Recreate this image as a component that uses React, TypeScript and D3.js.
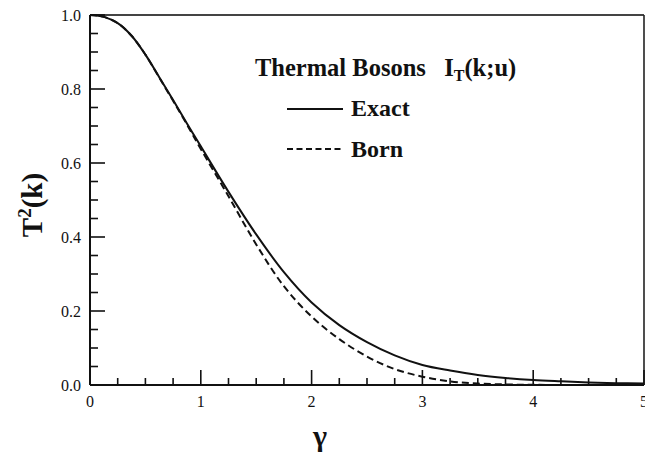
import React from "react";
import * as d3 from "d3";

const gammaExact = [0, 0.125, 0.25, 0.375, 0.5, 0.625, 0.75, 0.875, 1.0, 1.25, 1.5, 1.75, 2.0, 2.25, 2.5, 2.75, 3.0, 3.25, 3.5, 3.75, 4.0, 4.25, 4.5, 4.75, 5.0];
const exactValues = [1.0, 0.995, 0.978, 0.944, 0.893, 0.832, 0.77, 0.707, 0.645, 0.522, 0.407, 0.305, 0.223, 0.162, 0.116, 0.08, 0.054, 0.039, 0.027, 0.019, 0.0135, 0.01, 0.007, 0.005, 0.004];
const gammaBorn = [0, 0.125, 0.25, 0.375, 0.5, 0.625, 0.75, 0.875, 1.0, 1.25, 1.5, 1.75, 2.0, 2.25, 2.5, 2.75, 3.0, 3.25, 3.5, 3.75, 4.0, 4.5, 5.0];
const bornValues = [1.0, 0.995, 0.978, 0.944, 0.893, 0.831, 0.768, 0.704, 0.638, 0.51, 0.38, 0.267, 0.185, 0.124, 0.077, 0.043, 0.0225, 0.01, 0.004, 0.0015, 0.0005, 0.0001, 0];
const xTickLabels = ["0", "1", "2", "3", "4", "5"];
const yTickLabels = ["0.0", "0.2", "0.4", "0.6", "0.8", "1.0"];

const W = 645;
const H = 458;
const M = { left: 90, right: 644, top: 15, bottom: 385 };
const serif = "'Liberation Serif', 'Times New Roman', Times, serif";

export default function App() {
  const x = d3.scaleLinear().domain([0, 5]).range([M.left, M.right]);
  const y = d3.scaleLinear().domain([0, 1]).range([M.bottom, M.top]);

  const line = d3
    .line<[number, number]>()
    .x((d) => x(d[0]))
    .y((d) => y(d[1]))
    .curve(d3.curveCatmullRom.alpha(0.5));

  const exactPath = line(gammaExact.map((g, i) => [g, exactValues[i]]) as [number, number][]) || "";
  const bornPath = line(gammaBorn.map((g, i) => [g, bornValues[i]]) as [number, number][]) || "";

  const xMinor = d3.range(0, 5.0001, 0.25);
  const yMinor = d3.range(0, 1.0001, 0.05);

  return (
    <div style={{ position: "fixed", left: 0, top: 0 }}>
      <svg width={W} height={H} style={{ display: "block", background: "#fff" }}>
        <defs>
          <clipPath id="plotclip">
            <rect x={M.left} y={M.top - 2} width={M.right - M.left} height={M.bottom - M.top + 2} />
          </clipPath>
        </defs>
        {/* frame */}
        <line x1={M.left} x2={M.right} y1={M.top} y2={M.top} stroke="#444" strokeWidth={2.2} />
        <line x1={M.right} x2={M.right} y1={M.top} y2={M.bottom} stroke="#222" strokeWidth={1.6} />
        <line x1={M.left} x2={M.left} y1={M.top} y2={M.bottom} stroke="#111" strokeWidth={2} />
        <line x1={M.left} x2={M.right} y1={M.bottom} y2={M.bottom} stroke="#111" strokeWidth={2} />

        {/* x ticks */}
        {xMinor.map((v, i) => {
          const major = Math.abs(v - Math.round(v)) < 1e-6;
          if (v === 0) return null;
          return (
            <line key={"xt" + i} x1={x(v)} x2={x(v)} y1={M.bottom} y2={M.bottom - (major ? 15 : 7)} stroke="#111" strokeWidth={1.6} />
          );
        })}
        {/* y ticks */}
        {yMinor.map((v, i) => {
          const major = Math.abs(v * 5 - Math.round(v * 5)) < 1e-6;
          if (v === 0) return null;
          return (
            <line key={"yt" + i} x1={M.left} x2={M.left + (major ? 15 : 8)} y1={y(v)} y2={y(v)} stroke="#111" strokeWidth={1.6} />
          );
        })}

        {/* tick labels */}
        {xTickLabels.map((t, i) => (
          <text key={"xl" + i} x={x(+t)} y={407} textAnchor="middle" fontFamily={serif} fontSize={16} fill="#111">
            {t}
          </text>
        ))}
        {yTickLabels.map((t, i) => (
          <text key={"yl" + i} x={81} y={y(+t) + 6} textAnchor="end" fontFamily={serif} fontSize={16} fill="#111">
            {t}
          </text>
        ))}

        {/* curves */}
        <g clipPath="url(#plotclip)">
          <path d={exactPath} fill="none" stroke="#111" strokeWidth={2} />
          <path d={bornPath} fill="none" stroke="#111" strokeWidth={2} strokeDasharray="7,4" />
        </g>

        {/* legend */}
        <text x={255} y={76} fontFamily={serif} fontWeight="bold" fontSize={24.5} fill="#111">
          Thermal Bosons{"\u00A0\u00A0\u00A0"}I
          <tspan fontSize={16} dy={5}>T</tspan>
          <tspan dy={-5}>(k;u)</tspan>
        </text>
        <line x1={287} x2={343} y1={109} y2={109} stroke="#111" strokeWidth={2} />
        <text x={351} y={116} fontFamily={serif} fontWeight="bold" fontSize={24} fill="#111">
          Exact
        </text>
        <line x1={287} x2={343} y1={149} y2={149} stroke="#111" strokeWidth={2} strokeDasharray="6,3.5" />
        <text x={351} y={157} fontFamily={serif} fontWeight="bold" fontSize={24} fill="#111">
          Born
        </text>

        {/* axis titles */}
        <text x={320} y={446} textAnchor="middle" fontFamily={serif} fontWeight="bold" fontSize={30} fill="#111">
          γ
        </text>
        <text transform="translate(42,205) rotate(-90)" textAnchor="middle" fontFamily={serif} fontWeight="bold" fontSize={29} fill="#111">
          T<tspan fontSize={19} dy={-11}>2</tspan>
          <tspan dy={11}>(k)</tspan>
        </text>
      </svg>
    </div>
  );
}
